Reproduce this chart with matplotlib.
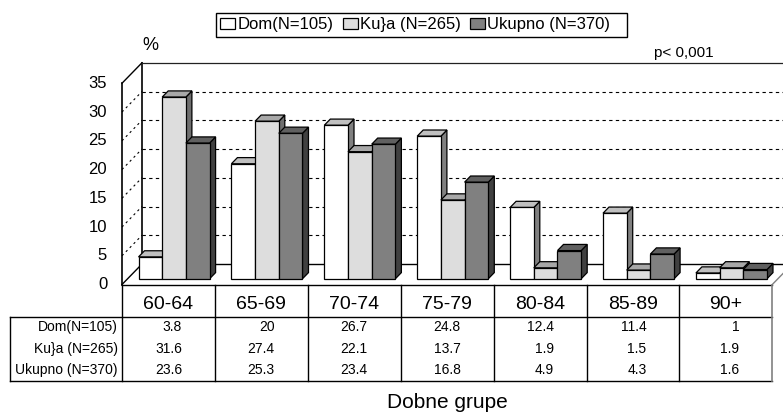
import numpy as np
import matplotlib.pyplot as plt
from matplotlib.patches import Polygon, Patch, Rectangle

groups = ['60-64', '65-69', '70-74', '75-79', '80-84', '85-89', '90+']
series = ['Dom(N=105)', 'Ku}a (N=265)', 'Ukupno (N=370)']
dom = [3.8, 20, 26.7, 24.8, 12.4, 11.4, 1]
kuca = [31.6, 27.4, 22.1, 13.7, 1.9, 1.5, 1.9]
ukupno = [23.6, 25.3, 23.4, 16.8, 4.9, 4.3, 1.6]
yticks = [0, 5, 10, 15, 20, 25, 30, 35]

front_c = ['#ffffff', '#dddddd', '#808080']
top_c = ['#c0c0c0', '#a8a8a8', '#606060']
side_c = ['#808080', '#6e6e6e', '#404040']

plt.rcParams['font.family'] = ['Liberation Sans', 'DejaVu Sans']

fig = plt.figure(figsize=(7.83, 4.16), dpi=100)
ax = fig.add_axes([0, 0, 1, 1])
ax.axis('off')
# one category = 92.9 px, one percent = 5.75 px on the front plane
ax.set_xlim(-122 / 92.9, (783 - 122) / 92.9)
ax.set_ylim(-(416 - 284.5) / 5.75, 284.5 / 5.75)

DX = 20 / 92.9     # depth of the box, in category units
DY = 20.5 / 5.75   # depth of the box, in percent units
ymax = 35
n = len(groups)

# back wall, left wall, floor
ax.plot([DX, DX], [DY, ymax + DY], color='black', lw=1.2, zorder=1)
ax.plot([0, 0], [0, ymax], color='black', lw=1.2, zorder=1)
ax.plot([0, DX], [ymax, ymax + DY], color='black', lw=1, zorder=1)
ax.plot([DX, n + DX], [ymax + DY, ymax + DY], color='#222222', lw=0.9, zorder=1)
ax.plot([DX, n + DX], [DY, DY], color='black', lw=1, zorder=1)
ax.plot([0, DX], [0, DY], color='black', lw=1, zorder=1)
ax.plot([n, n + DX], [0, DY], color='#808080', lw=1, zorder=1)
for t in yticks[1:-1]:
    ax.plot([DX, n + DX], [t + DY, t + DY], color='black', lw=0.8,
            ls=(0, (3, 3)), zorder=1)
    ax.plot([0, DX], [t, t + DY], color='black', lw=0.8,
            ls=(0, (2, 3)), zorder=1)
for t in yticks:
    ax.text(-0.16, t, str(t), ha='right', va='center', fontsize=12)
ax.text(0.31, 41.6, '%', ha='center', va='center', fontsize=13)
ax.text(6.05, 40.3, 'p< 0,001', ha='center', va='center', fontsize=11)


def bar3d(x0, w, h, colors, f0=0.28, f1=0.58):
    ox0, oy0 = f0 * DX, f0 * DY
    ox1, oy1 = f1 * DX, f1 * DY
    fc, tc, sc = colors
    kw = dict(edgecolor='black', lw=0.9, joinstyle='miter', zorder=3)
    ax.add_patch(Polygon([(x0 + w + ox0, oy0), (x0 + w + ox1, oy1),
                          (x0 + w + ox1, h + oy1), (x0 + w + ox0, h + oy0)],
                         facecolor=sc, **kw))
    ax.add_patch(Polygon([(x0 + ox0, h + oy0), (x0 + w + ox0, h + oy0),
                          (x0 + w + ox1, h + oy1), (x0 + ox1, h + oy1)],
                         facecolor=tc, **kw))
    ax.add_patch(Polygon([(x0 + ox0, oy0), (x0 + w + ox0, oy0),
                          (x0 + w + ox0, h + oy0), (x0 + ox0, h + oy0)],
                         facecolor=fc, **kw))


values = [dom, kuca, ukupno]
bw = 0.255
for i in range(n):
    left = i + (1 - 3 * bw) / 2
    for s in range(3):
        bar3d(left + s * bw, bw, values[s][i], (front_c[s], top_c[s], side_c[s]))

# data table
hdr = -5.65
bot = -16.8
lab_x = -1.206
ax.plot([0, n], [0, 0], color='black', lw=1, zorder=2)
ax.plot([lab_x, n], [hdr, hdr], color='black', lw=1)
ax.plot([lab_x, n], [bot, bot], color='black', lw=1)
ax.plot([lab_x, lab_x], [hdr, bot], color='black', lw=1)
for k in range(n):
    ax.plot([k, k], [0, bot], color='black', lw=1)
ax.plot([n, n], [0, bot], color='#808080', lw=1.2)

row_y = [-7.4, -11.2, -14.9]
for i, g in enumerate(groups):
    ax.text(i + 0.5, -3.55, g, ha='center', va='center', fontsize=14)
    for s in range(3):
        ax.text(i + 0.5 + 0.145, row_y[s], f'{values[s][i]:g}',
                ha='right', va='center', fontsize=10)
for s in range(3):
    ax.text(-0.045, row_y[s], series[s], ha='right', va='center', fontsize=10)

ax.text(n / 2, -20.6, 'Dobne grupe', ha='center', va='center', fontsize=15)

# legend: entries without frame, box drawn separately (Excel pads it unevenly)
handles = [Patch(facecolor=front_c[s], edgecolor='black', lw=0.9) for s in range(3)]
fig.legend(handles, series, loc='center', bbox_to_anchor=(415 / 783, 1 - 25 / 416),
           ncol=3, fontsize=12, frameon=False,
           handlelength=0.9, handleheight=0.6, handletextpad=0.12,
           columnspacing=0.55, borderpad=0, borderaxespad=0)
fig.add_artist(Rectangle((216 / 783, 1 - 37 / 416), 411 / 783, 24 / 416,
                         transform=fig.transFigure, fill=False,
                         edgecolor='black', lw=1))

fig.savefig('out.png', dpi=100)
